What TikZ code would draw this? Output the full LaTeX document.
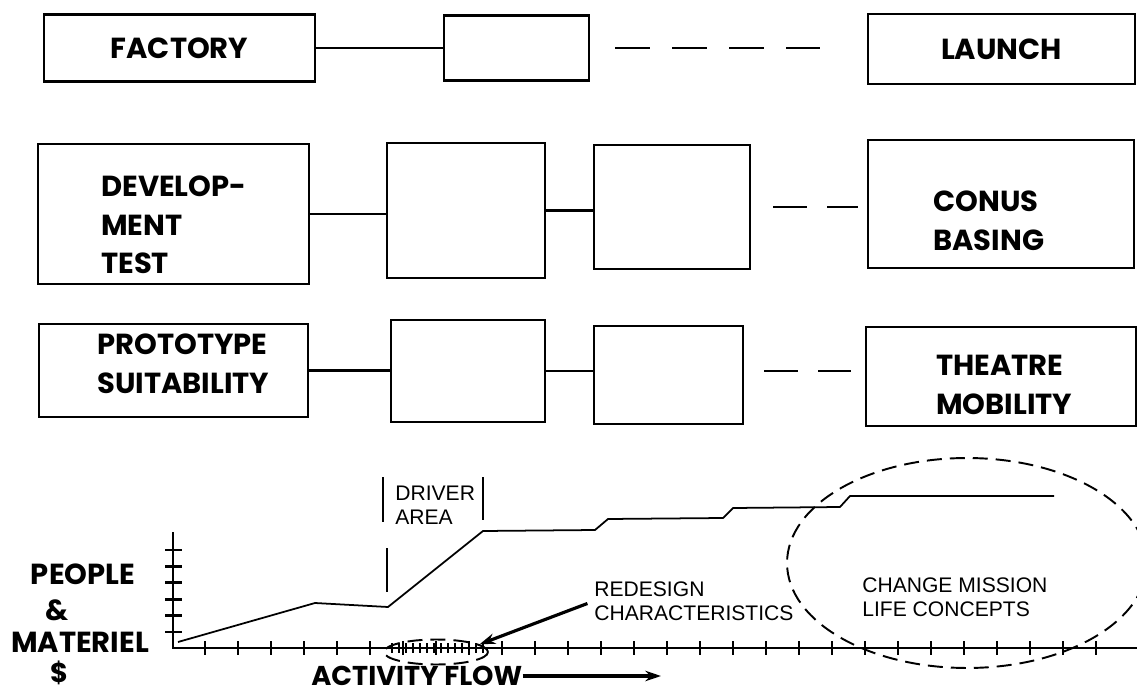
\documentclass[tikz,border=0pt]{standalone}
\usepackage{fontspec}
\setmainfont{Liberation Sans}
\newfontfamily\headfont{Poppins}
\usetikzlibrary{arrows.meta,shapes.geometric}

\begin{document}
\begin{tikzpicture}[x=0.02cm, y=-0.02cm,
    blk/.style={draw, line width=1.3pt, inner sep=0pt},
    head/.style={font=\headfont\bfseries\fontsize{16.5}{22}\selectfont, align=left, inner sep=0pt},
    foot/.style={head, font=\headfont\bfseries\fontsize{15.5}{20}\selectfont},
    note/.style={font=\fontsize{12}{13.5}\selectfont, align=left, anchor=west, inner sep=0pt},
    link/.style={line width=1.2pt},
    gap/.style={line width=1.2pt, dash pattern=on 0.68cm off 0.4cm},
    axis/.style={line width=1.7pt},
    tick/.style={line width=1pt},
    trend/.style={line width=1pt, line join=round},
    bar/.style={line width=1.3pt},
    zone/.style={draw, ellipse, line width=1.1pt, dash pattern=on 0.3cm off 0.16cm, inner sep=0pt}]

    \useasboundingbox (0,0) rectangle (1137,693);
    \clip (0,0) rectangle (1137,693);

    % ---- row 1 ----
    \node[blk, head, minimum width=5.42cm, minimum height=1.34cm] (factory) at (179.5,48) {FACTORY};
    \node[blk, minimum width=2.9cm, minimum height=1.3cm] (blank1) at (516.5,48) {};
    \node[blk, head, minimum width=5.34cm, minimum height=1.4cm] (launch) at (1001.5,49) {LAUNCH};

    \draw[link] (factory.east) -- (blank1.west |- factory.east);
    \draw[gap, dash pattern=on 0.7cm off 0.44cm, shorten <=0.5cm, shorten >=0.94cm]
        (blank1.east) -- (launch.west |- blank1.east);

    % ---- row 2 ----
    \node[blk, minimum width=5.42cm, minimum height=2.8cm] (devtest) at (173.5,214) {};
    \node[blk, minimum width=3.16cm, minimum height=2.7cm] (blank2a) at (466,210.5) {};
    \node[blk, minimum width=3.12cm, minimum height=2.48cm] (blank2b) at (672,207) {};
    \node[blk, minimum width=5.32cm, minimum height=2.56cm] (conus) at (1001,204) {};
    \node[head, anchor=west] (devtest-txt) at (101,225) {DEVELOP-\\MENT\\TEST};
    \node[head, anchor=west] (conus-txt) at (933,221) {CONUS\\BASING};

    \draw[link] (devtest.east) -- (blank2a.west |- devtest.east);
    \draw[link] (blank2a.east) -- (blank2b.west |- blank2a.east);
    \draw[gap, shorten <=0.44cm, shorten >=0.18cm] (blank2b.east) -- (conus.west |- blank2b.east);

    % ---- row 3 ----
    \node[blk, minimum width=5.38cm, minimum height=1.86cm] (proto) at (173.5,370.5) {};
    \node[blk, minimum width=3.08cm, minimum height=2.04cm] (blank3a) at (468,371) {};
    \node[blk, minimum width=2.98cm, minimum height=1.96cm] (blank3b) at (668.5,375) {};
    \node[blk, minimum width=5.4cm, minimum height=1.98cm] (theatre) at (1001,376.5) {};
    \node[head, anchor=west] (proto-txt) at (97,364) {PROTOTYPE\\SUITABILITY};
    \node[head, anchor=west] (theatre-txt) at (936,385) {THEATRE\\MOBILITY};

    \draw[link] (proto.east) -- (blank3a.west |- proto.east);
    \draw[link] (blank3a.east) -- (blank3b.west |- blank3a.east);
    \draw[gap, shorten <=0.4cm, shorten >=0.28cm] (blank3b.east |- blank3a.east) -- (theatre.west |- blank3a.east);

    % ---- chart: axes and ticks ----
    \draw[axis] (173,532) -- (173,648) -- (1137,648);
    \foreach \k in {0,...,5}
        \draw[axis] (165,{550+16.4*\k}) -- (182,{550+16.4*\k});
    \foreach \k in {0,...,27}
        \draw[tick] ({205+33*\k},641) -- ({205+33*\k},655);
    \foreach \x in {392,399,...,483}
        \draw[tick] (\x,643) -- (\x,653);

    % ---- chart: curve ----
    \draw[trend] (178,642) -- (315,603) -- (388,607) -- (483,531) -- (595,530) -- (608,519)
        -- (723,518) -- (733,508) -- (840,507) -- (850,496) -- (1054,496);

    % ---- driver area ----
    \draw[bar] (383,477) -- (383,522);
    \draw[bar] (483,477) -- (483,520);
    \draw[bar] (387,548) -- (387,592);
    \node[note] (driver) at (395,505) {DRIVER\\AREA};

    % ---- zones ----
    \node[zone, minimum width=2.08cm, minimum height=0.5cm] (dense) at (436,652) {};
    \node[zone, minimum width=7.2cm, minimum height=4.2cm] (mission) at (967,563) {};
    \node[note] (redesign) at (594,601) {REDESIGN\\CHARACTERISTICS};
    \node[note] (mission-txt) at (862,597) {CHANGE MISSION\\LIFE CONCEPTS};
    \draw[line width=1.8pt, -{Stealth[length=9pt, width=6pt]}, shorten <=4pt] (redesign.west) -- (dense.10);

    % ---- axis labels ----
    \node[head] (people) at (83,574) {PEOPLE};
    \node[head] (amp) at (57,610) {\&};
    \node[head] (materiel) at (80,642) {MATERIEL};
    \node[foot] (dollar) at (59,673) {\$};
    \node[foot, anchor=west] (flow) at (311,676) {ACTIVITY FLOW};
    \coordinate (flow-end) at (661,676);
    \draw[line width=1.8pt, -{Stealth[length=9pt, width=6pt]}] (flow.east) -- (flow-end);

\end{tikzpicture}
\end{document}
